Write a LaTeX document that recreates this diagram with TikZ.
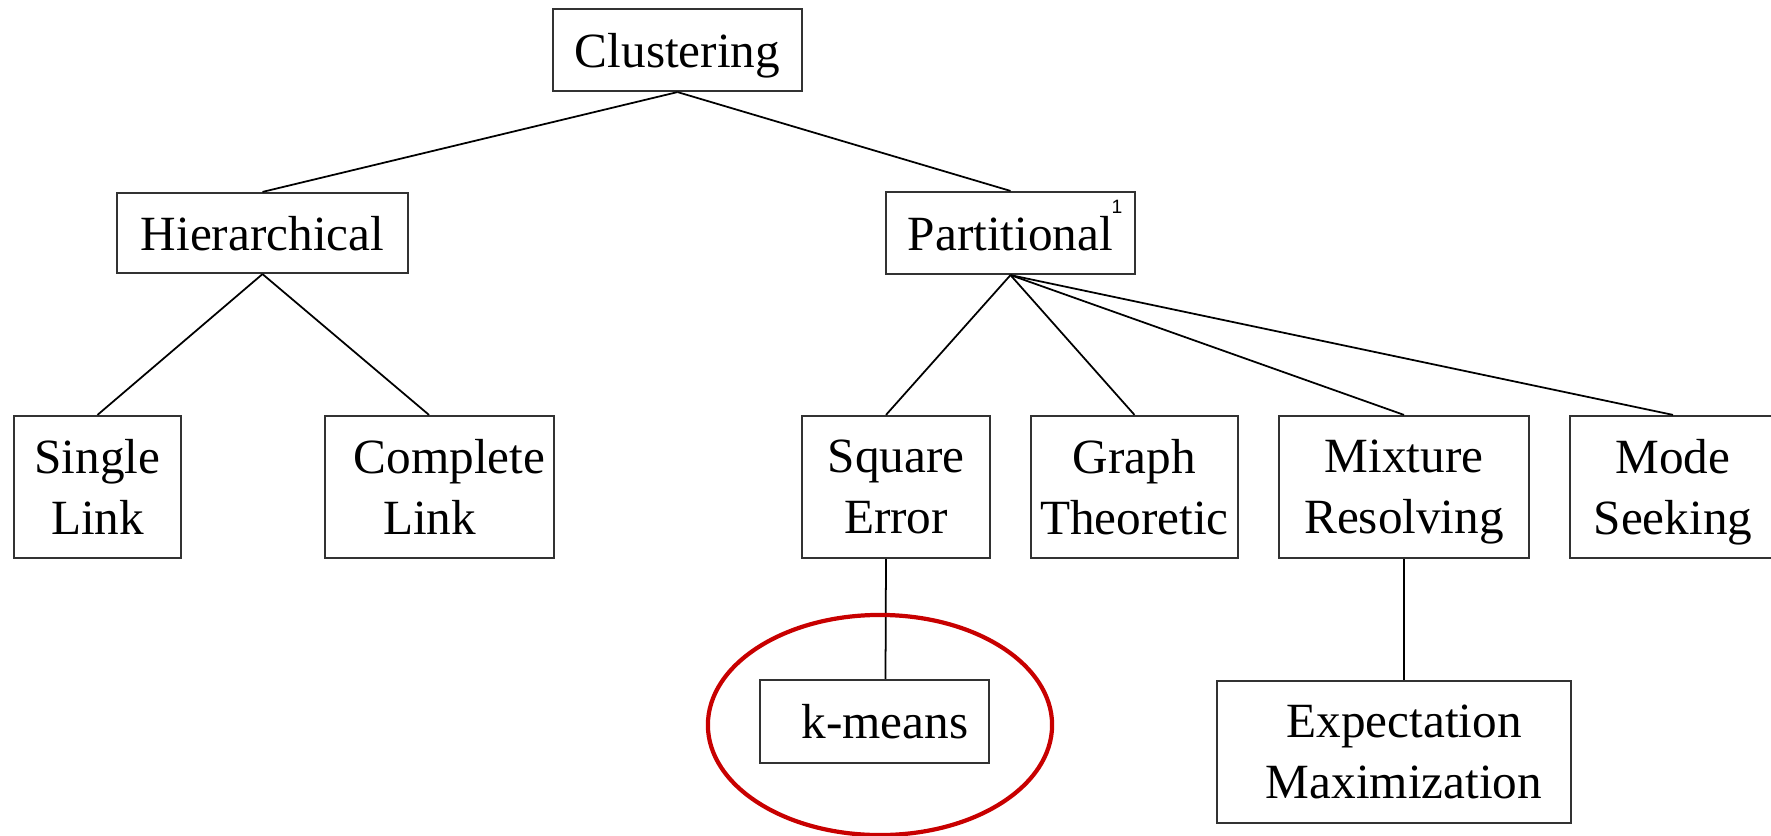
\documentclass[tikz,border=0pt]{standalone}
\usepackage{fontspec}
\setmainfont{Liberation Serif}
\newfontfamily\notefont{Liberation Sans}
\definecolor{ringred}{RGB}{200,0,0}
\definecolor{boxline}{RGB}{50,50,50}
\tikzset{
  catbox/.style={draw=boxline, line width=0.6pt, inner sep=0pt, align=center,
                 text depth=0pt, font=\fontsize{14}{17.4}\selectfont},
  link/.style={draw=black, line width=0.5pt},
  hilite/.style={draw=ringred, line width=1.2pt},
}
\begin{document}
\begin{tikzpicture}[x=0.01cm, y=-0.01cm]
  \useasboundingbox (0,0) rectangle (1771,836);
  \fill[white] (0,0) rectangle (1771,836);
  \clip (0,0) rectangle (1771,836);

  % top level
  \node[catbox, minimum width=2.49cm, minimum height=0.82cm] (clus) at (677.5,50) {Clustering};

  % second level
  \node[catbox, minimum width=2.91cm, minimum height=0.80cm] (hier) at (262.5,233) {Hierarchical};
  \node[catbox, minimum width=2.49cm, minimum height=0.82cm] (part) at (1010.5,233) {Partitional};
  \node[font=\notefont\fontsize{5.5}{6.5}\selectfont, inner sep=0pt] (note) at (1117,207) {1};

  % third level
  \node[catbox, minimum width=1.67cm, minimum height=1.42cm] (single) at (97.5,487) {Single\\Link};
  \node[catbox, minimum width=2.29cm, minimum height=1.42cm] (cpl) at (439.5,487)
       {\hspace*{0.2cm}Complete\\Link\hspace*{0.2cm}};
  \node[catbox, minimum width=1.88cm, minimum height=1.42cm] (sq) at (896,487) {Square\\Error};
  \node[catbox, minimum width=2.07cm, minimum height=1.42cm] (graph) at (1134.5,487) {Graph\\Theoretic};
  \node[catbox, minimum width=2.50cm, minimum height=1.42cm] (mix) at (1404,487) {Mixture\\Resolving};
  \node[catbox, minimum width=2.06cm, minimum height=1.42cm] (mode) at (1673,487) {Mode\\Seeking};

  % fourth level
  \node[catbox, minimum width=2.29cm, minimum height=0.83cm] (km) at (874.5,721.5)
       {\hspace*{0.21cm}k-means};
  \node[catbox, minimum width=3.54cm, minimum height=1.42cm] (em) at (1394,752)
       {\hspace*{0.2cm}Expectation\\\hspace*{0.2cm}Maximization};

  % tree edges
  \draw[link] (clus.south) -- (hier.north);
  \draw[link] (clus.south) -- (part.north);
  \draw[link] (hier.south) -- (single.north);
  \draw[link] (hier.south) -- ([xshift=-0.105cm]cpl.north);
  \draw[link] (part.south) -- ([xshift=-0.1cm]sq.north);
  \draw[link] (part.south) -- (graph.north);
  \draw[link] (part.south) -- (mix.north);
  \draw[link] (part.south) -- (mode.north);
  \draw[link] ([xshift=-0.1cm]sq.south) -- ([xshift=0.11cm]km.north);
  \draw[link] (mix.south) -- ([xshift=0.1cm]em.north);

  % highlight ring
  \coordinate (ring) at (880,725);
  \draw[hilite] (ring) ellipse [x radius=1.72cm, y radius=1.10cm];
\end{tikzpicture}
\end{document}
